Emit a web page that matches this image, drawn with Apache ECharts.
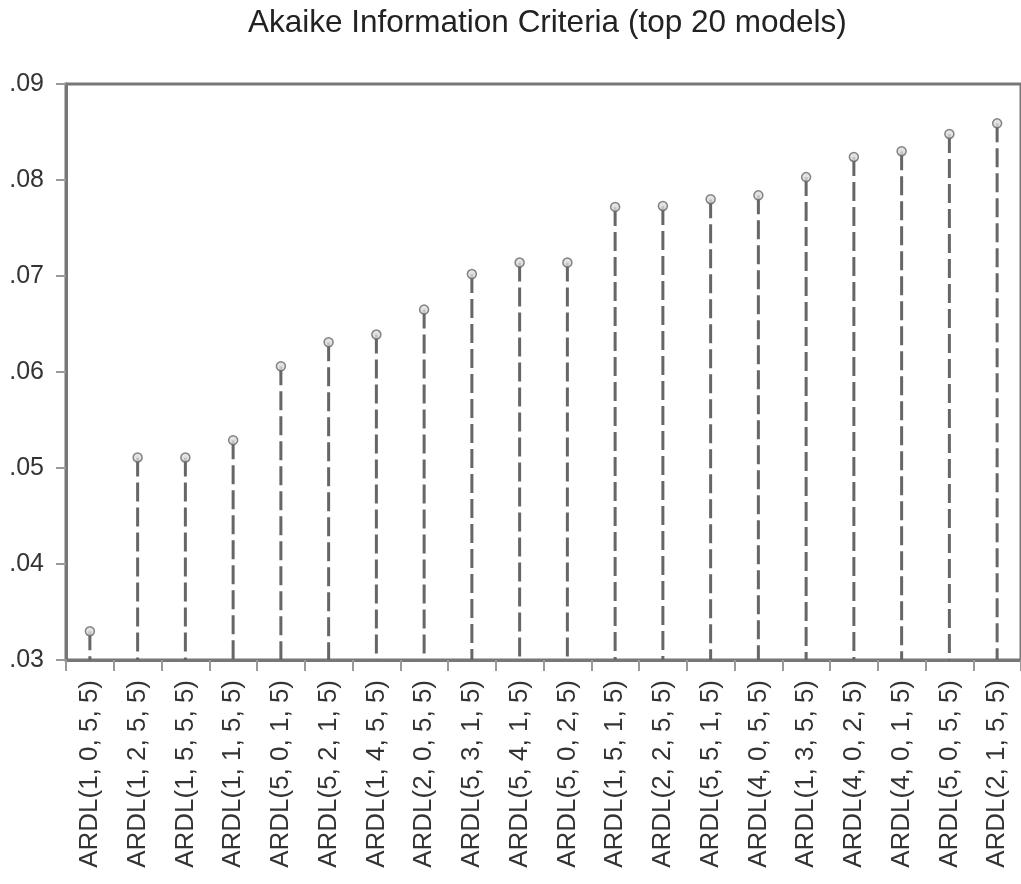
<!DOCTYPE html>
<html>
<head>
<meta charset="utf-8">
<script src="https://cdn.jsdelivr.net/npm/echarts@6/dist/echarts.min.js"></script>
<style>
  html, body { margin: 0; padding: 0; background: #fff; }
  #chart { width: 1021px; height: 884px; }
</style>
</head>
<body>
<div id="chart"></div>
<script>
// Model specifications ranked by Akaike Information Criteria
const models = [
  'ARDL(1, 0, 5, 5)', 'ARDL(1, 2, 5, 5)', 'ARDL(1, 5, 5, 5)', 'ARDL(1, 1, 5, 5)',
  'ARDL(5, 0, 1, 5)', 'ARDL(5, 2, 1, 5)', 'ARDL(1, 4, 5, 5)', 'ARDL(2, 0, 5, 5)',
  'ARDL(5, 3, 1, 5)', 'ARDL(5, 4, 1, 5)', 'ARDL(5, 0, 2, 5)', 'ARDL(1, 5, 1, 5)',
  'ARDL(2, 2, 5, 5)', 'ARDL(5, 5, 1, 5)', 'ARDL(4, 0, 5, 5)', 'ARDL(1, 3, 5, 5)',
  'ARDL(4, 0, 2, 5)', 'ARDL(4, 0, 1, 5)', 'ARDL(5, 0, 5, 5)', 'ARDL(2, 1, 5, 5)'
];
const aicValues = [
  0.0330, 0.0511, 0.0511, 0.0529, 0.0606, 0.0631, 0.0639, 0.0665,
  0.0702, 0.0714, 0.0714, 0.0772, 0.0773, 0.0780, 0.0784, 0.0803,
  0.0824, 0.0830, 0.0848, 0.0859
];
const yMin = 0.03, yMax = 0.09, yStep = 0.01;

const chart = echarts.init(document.getElementById('chart'), null, { renderer: 'canvas' });
const fontFamily = '"Liberation Sans", Arial, Helvetica, sans-serif';

chart.setOption({
  animation: false,
  backgroundColor: '#ffffff',
  title: {
    text: 'Akaike Information Criteria (top 20 models)',
    left: 243,
    top: 2,
    textStyle: { fontFamily, fontSize: 31.5, fontWeight: 'normal', color: '#222' }
  },
  grid: {
    left: 66, top: 84, bottom: 224, width: 957,
    show: true, borderColor: '#777', borderWidth: 3, backgroundColor: 'transparent'
  },
  xAxis: {
    type: 'category',
    data: models,
    boundaryGap: true,
    axisLine: { lineStyle: { color: '#777', width: 3 } },
    axisTick: { show: true, length: 11, alignWithLabel: false, lineStyle: { color: '#999', width: 2 } },
    axisLabel: {
      rotate: 90, margin: 20, interval: 0,
      fontFamily, fontSize: 26, color: '#333'
    },
    splitLine: { show: false }
  },
  yAxis: {
    type: 'value',
    min: yMin, max: yMax, interval: yStep,
    axisLine: { show: true, lineStyle: { color: '#777', width: 3 } },
    axisTick: { show: true, length: 10, lineStyle: { color: '#999', width: 2 } },
    axisLabel: {
      margin: 22, fontFamily, fontSize: 25, color: '#333',
      formatter: v => v.toFixed(2).replace(/^0/, '')
    },
    splitLine: { show: false }
  },
  series: [
    {
      // dashed stems from the axis floor up to each value
      type: 'custom',
      data: aicValues.map((v, i) => [i, v]),
      renderItem: (params, api) => {
        const top = api.coord([api.value(0), api.value(1)]);
        const bottom = api.coord([api.value(0), yMin]);
        return {
          type: 'line',
          shape: { x1: top[0], y1: top[1], x2: bottom[0], y2: bottom[1] },
          style: { stroke: '#666', lineWidth: 3, lineDash: [19, 6] }
        };
      },
      z: 2
    },
    {
      // small hollow marker at the tip of each stem
      type: 'scatter',
      data: aicValues.map((v, i) => [i, v]),
      symbol: 'circle',
      symbolSize: 9,
      itemStyle: { color: '#dcdcdc', borderColor: '#666', borderWidth: 1.5 },
      z: 3
    }
  ]
});
</script>
</body>
</html>
